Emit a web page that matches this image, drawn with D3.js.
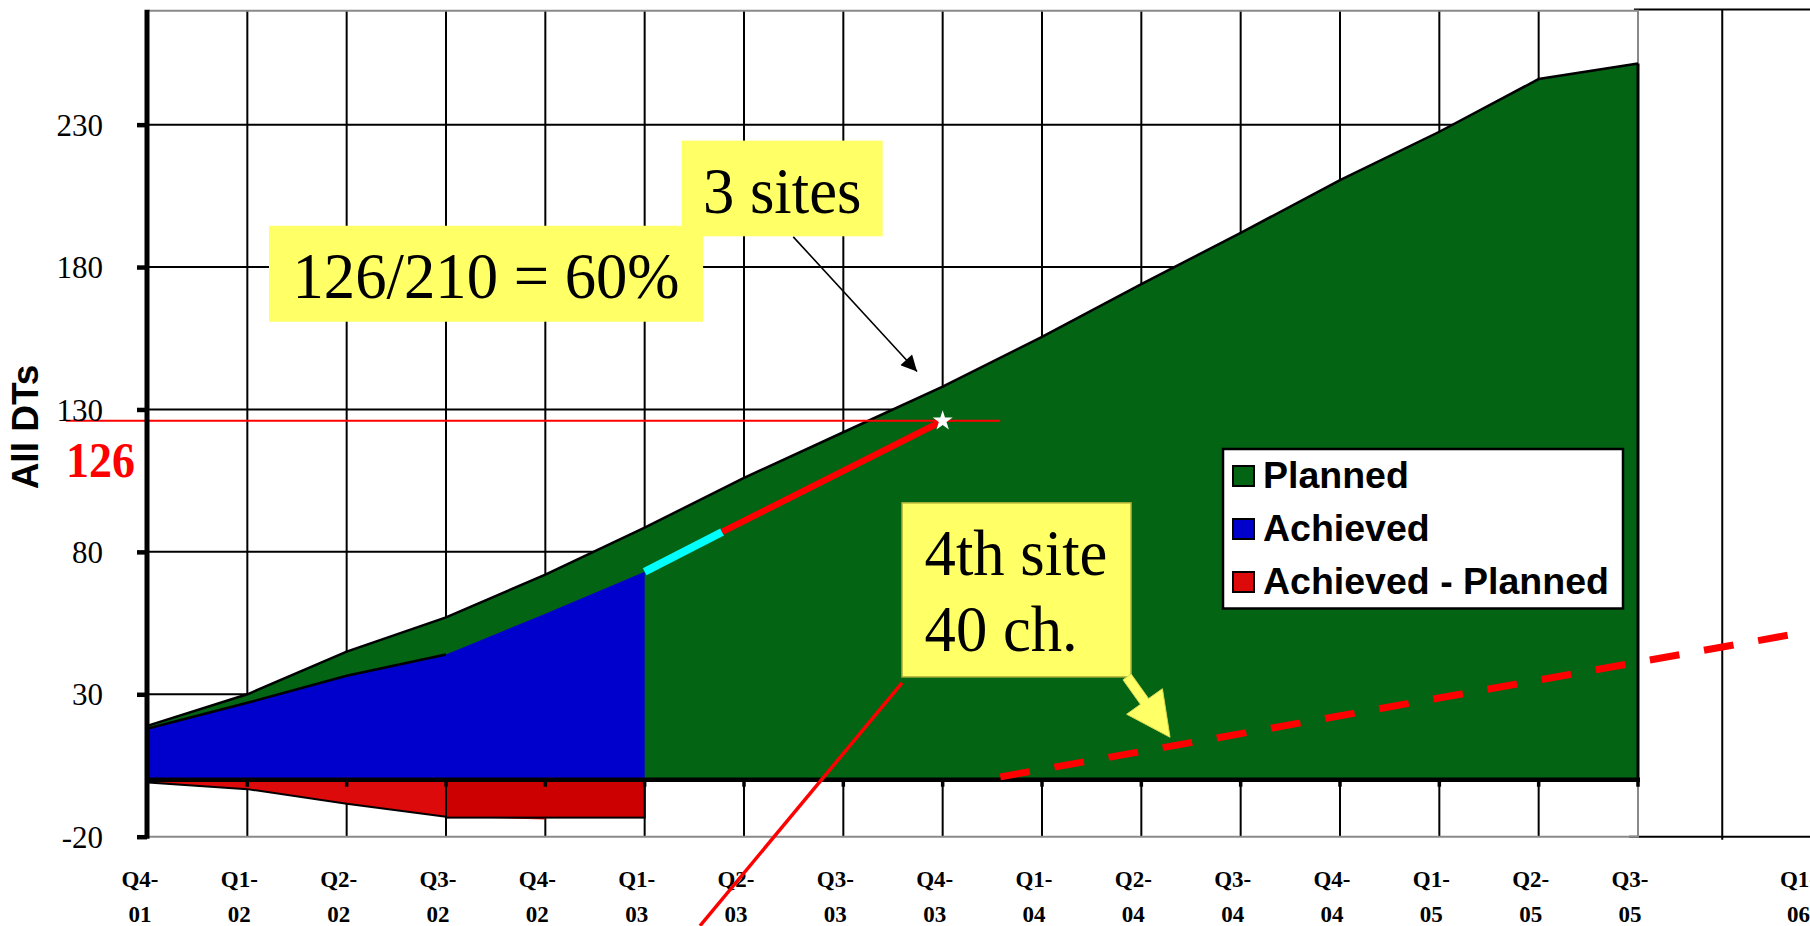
<!DOCTYPE html>
<html>
<head>
<meta charset="utf-8">
<script src="https://cdn.jsdelivr.net/npm/d3@7"></script>
<style>
  html, body { margin: 0; padding: 0; background: #ffffff; }
  svg { display: block; }
</style>
</head>
<body>
<svg id="chart" width="1810" height="926"></svg>
<script>
// ---- data ----
const quarters = ["Q4-01","Q1-02","Q2-02","Q3-02","Q4-02","Q1-03","Q2-03","Q3-03",
                  "Q4-03","Q1-04","Q2-04","Q3-04","Q4-04","Q1-05","Q2-05","Q3-05"];
const planned = [19, 30, 45, 57, 72, 88.5, 106, 122, 138, 155.5, 174, 192, 210.5, 227.5, 246, 251.5];
const achieved = [18, 27, 36.5, 44, 58.3, 73];
const achievedMinusPlanned = [-1, -3.3, -8.4, -13, -14];
const yTicks = [-20, 30, 80, 130, 180, 230];
const extraQuarters = ["Q3-05", "Q1-06"];

// shortfall block between Q3-02 and Q1-03 (quarter indices)
const shortfall = { from: 3, to: 5, value: -13.3 };
// projection from the last achieved point to the 126 target
const projectionCyan = [{ q: 5, v: 73 }, { q: 5.78, v: 87 }];
const projectionRed  = [{ q: 5.78, v: 87 }, { q: 8, v: 126 }];
const target = { q: 8, v: 126, label: "126" };
// 4th site trend (dashed)
const fourthSiteTrend = [{ q: 8.58, v: 1 }, { q: 16.71, v: 52 }];

// annotation boxes, in quarter-index / value space
const notes = [
  { text: ["3 sites"], q0: 5.373, q1: 7.396, v0: 224.4, v1: 190.8, anchor: "middle", border: null },
  { text: ["126/210 = 60%"], q0: 1.218, q1: 5.588, v0: 194.5, v1: 160.8, anchor: "middle", border: null },
  { text: ["4th site", "40 ch."], q0: 7.591, q1: 9.896, v0: 97.2, v1: 36.1, anchor: "start", border: "#b4b43c" }
];
const sitesArrow = [{ q: 6.496, v: 190.6 }, { q: 7.742, v: 143.3 }];
const fourthArrow = [{ q: 9.856, v: 36.1 }, { q: 10.289, v: 14.9 }];
const fourthPointer = [{ q: 7.591, v: 34 }, { q: 5.557, v: -51.3 }];

const legendItems = [
  { label: "Planned", color: "#036414" },
  { label: "Achieved", color: "#0000cc" },
  { label: "Achieved - Planned", color: "#dc0a0a" }
];

// ---- layout ----
const W = 1810, H = 926;
const pL = 148, pR = 1638, pT = 10.7, pB = 836.7;
const SERIF = "'Liberation Serif','Times New Roman',serif";
const SANS = "'Liberation Sans',Arial,sans-serif";

const svg = d3.select("#chart");
const x = d3.scalePoint().domain(quarters).range([pL, pR]);
const xq = d3.scaleLinear().domain([0, quarters.length - 1]).range([pL, pR]);
const y = d3.scaleLinear().domain([-20, 270]).range([pB, pT]);
const x2 = d3.scaleBand().domain(extraQuarters)
  .range([pR - 84.25, pR + 168.5 + 84.25]).padding(0);

svg.append("rect").attr("width", W).attr("height", H).attr("fill", "#fff");

// ---- grid ----
const grid = svg.append("g");
grid.selectAll("line.h").data(yTicks.filter(t => t > -20)).join("line")
  .attr("x1", pL).attr("x2", pR)
  .attr("y1", d => y(d)).attr("y2", d => y(d))
  .attr("stroke", "#000").attr("stroke-width", 2);
grid.selectAll("line.v").data(quarters.slice(1, -1)).join("line")
  .attr("x1", d => x(d)).attr("x2", d => x(d))
  .attr("y1", pT).attr("y2", pB)
  .attr("stroke", "#000").attr("stroke-width", 2);

// right-hand extension panel
const ext = svg.append("g");
ext.append("line").attr("x1", pR - 4).attr("x2", W).attr("y1", pT - 1.2).attr("y2", pT - 1.2)
  .attr("stroke", "#000").attr("stroke-width", 2);
ext.append("line").attr("x1", pR - 9).attr("x2", W).attr("y1", pB).attr("y2", pB)
  .attr("stroke", "#000").attr("stroke-width", 2);
ext.append("line").attr("x1", x2("Q1-06")).attr("x2", x2("Q1-06"))
  .attr("y1", pT - 1).attr("y2", pB + 3)
  .attr("stroke", "#000").attr("stroke-width", 2);

// plot border
svg.append("path").attr("d", `M${pL},${pT}H${pR}V${pB}H${pL}`)
  .attr("stroke", "#8a8a8a").attr("stroke-width", 2).attr("fill", "none");

// ---- areas ----
const areaGen = d3.area().x((d, i) => x(quarters[i])).y0(y(0)).y1(d => y(d));
const lineGen = d3.line().x((d, i) => x(quarters[i])).y(d => y(d));

svg.append("path").datum(planned).attr("d", areaGen).attr("fill", "#036414");
svg.append("path").datum(planned).attr("d", lineGen)
  .attr("fill", "none").attr("stroke", "#000").attr("stroke-width", 2.5);
svg.append("line")
  .attr("x1", x(quarters[quarters.length - 1])).attr("x2", x(quarters[quarters.length - 1]))
  .attr("y1", y(planned[planned.length - 1])).attr("y2", y(0))
  .attr("stroke", "#000").attr("stroke-width", 3);

svg.append("path").datum(achieved).attr("d", areaGen).attr("fill", "#0000cc");
svg.append("path").datum(achieved.slice(0, 4)).attr("d", lineGen)
  .attr("fill", "none").attr("stroke", "#000").attr("stroke-width", 2.5);

svg.append("path").datum(achievedMinusPlanned).attr("d", areaGen).attr("fill", "#dc0a0a");
svg.append("path").datum(achievedMinusPlanned.slice(0, 4)).attr("d", lineGen)
  .attr("fill", "none").attr("stroke", "#000").attr("stroke-width", 2);

svg.append("rect")
  .attr("x", xq(shortfall.from)).attr("y", y(0))
  .attr("width", xq(shortfall.to) - xq(shortfall.from))
  .attr("height", y(shortfall.value) - y(0))
  .attr("fill", "#cc0000").attr("stroke", "#000").attr("stroke-width", 2);

// ---- 126 reference line ----
svg.append("line")
  .attr("x1", 66).attr("x2", xq(fourthSiteTrend[0].q))
  .attr("y1", y(target.v)).attr("y2", y(target.v))
  .attr("stroke", "#ff0000").attr("stroke-width", 2);

// ---- zero axis ----
svg.append("line").attr("x1", pL).attr("x2", pR + 2)
  .attr("y1", y(0)).attr("y2", y(0)).attr("stroke", "#000").attr("stroke-width", 4.5);
svg.selectAll("line.zt").data(quarters.slice(1)).join("line")
  .attr("x1", d => x(d)).attr("x2", d => x(d))
  .attr("y1", y(0)).attr("y2", y(0) + 7)
  .attr("stroke", "#000").attr("stroke-width", 3.5);

// ---- y axis ----
const yAxis = d3.axisLeft(y).tickValues(yTicks).tickFormat(d => String(d))
  .tickSizeInner(10).tickSizeOuter(0).tickPadding(34);
const ya = svg.append("g").attr("transform", `translate(${pL - 1},0)`).call(yAxis);
ya.select(".domain").attr("stroke", "#000").attr("stroke-width", 5)
  .attr("d", `M0,${pT - 1}V${pB + 2}`);
ya.selectAll(".tick line").attr("stroke", "#000").attr("stroke-width", 4.5);
ya.selectAll(".tick text").attr("font-family", SERIF).attr("font-size", 31)
  .attr("fill", "#000").attr("dy", "0.34em");

// ---- x labels ----
const xl = svg.append("g").attr("font-family", SERIF).attr("font-weight", "bold")
  .attr("font-size", 23).attr("text-anchor", "middle").attr("fill", "#000");
function qLabel(g, q, cx) {
  const [a, b] = q.split("-");
  const t = g.append("text").attr("x", cx);
  t.append("tspan").attr("x", cx).attr("y", 886.7).text(a + "-");
  t.append("tspan").attr("x", cx).attr("y", 921.7).text(b);
}
quarters.forEach(q => qLabel(xl, q, x(q) - 8));
qLabel(xl, "Q1-06", x2("Q1-06") + x2.bandwidth() / 2 - 8);

// ---- projection ----
const pl = d3.line().x(d => xq(d.q)).y(d => y(d.v));
svg.append("path").datum(projectionCyan).attr("d", pl)
  .attr("stroke", "#00ffff").attr("stroke-width", 8).attr("fill", "none");
svg.append("path").datum(projectionRed).attr("d", pl)
  .attr("stroke", "#ff0000").attr("stroke-width", 6.5).attr("fill", "none");
svg.append("path")
  .attr("d", d3.symbol().type(d3.symbolStar).size(125)())
  .attr("transform", `translate(${xq(target.q)},${y(target.v)})`)
  .attr("fill", "#fff");

// ---- 4th site trend ----
svg.append("path").datum(fourthSiteTrend).attr("d", pl)
  .attr("stroke", "#ff0000").attr("stroke-width", 7).attr("fill", "none")
  .attr("stroke-dasharray", "30 25");

// ---- annotations ----
notes.forEach(n => {
  const bx = xq(n.q0), by = y(n.v0), bw = xq(n.q1) - xq(n.q0), bh = y(n.v1) - y(n.v0);
  svg.append("rect").attr("x", bx).attr("y", by).attr("width", bw).attr("height", bh)
    .attr("fill", "#ffff66")
    .attr("stroke", n.border || "none").attr("stroke-width", n.border ? 1.5 : 0);
  n.text.forEach((line, i) => {
    const tx = n.anchor === "middle" ? bx + bw / 2 : bx + 22.5;
    const ty = by + 72 + i * 75.7;
    svg.append("text")
      .attr("transform", `translate(${tx},${ty}) scale(0.95,1)`)
      .attr("text-anchor", n.anchor)
      .attr("font-family", SERIF).attr("font-size", 66).attr("fill", "#000")
      .text(line);
  });
});

// black arrow from "3 sites"
svg.append("defs").append("marker")
  .attr("id", "blackHead").attr("viewBox", "0 0 10 10").attr("refX", 10).attr("refY", 5)
  .attr("markerUnits", "userSpaceOnUse").attr("markerWidth", 20).attr("markerHeight", 16)
  .attr("orient", "auto")
  .append("path").attr("d", "M0,0L10,5L0,10Z").attr("fill", "#000");
svg.append("path").datum(sitesArrow).attr("d", pl)
  .attr("stroke", "#000").attr("stroke-width", 1.6).attr("fill", "none")
  .attr("marker-end", "url(#blackHead)");

// yellow block arrow from "4th site"
(function () {
  const [p0, p1] = fourthArrow.map(d => [xq(d.q), y(d.v)]);
  const dx = p1[0] - p0[0], dy = p1[1] - p0[1];
  const len = Math.hypot(dx, dy), ux = dx / len, uy = dy / len, nx = -uy, ny = ux;
  const headLen = 44, headHalf = 22, shaftHalf = 5;
  const bxp = p1[0] - ux * headLen, byp = p1[1] - uy * headLen;
  const pts = [
    [p0[0] + nx * shaftHalf, p0[1] + ny * shaftHalf],
    [bxp + nx * shaftHalf, byp + ny * shaftHalf],
    [bxp + nx * headHalf, byp + ny * headHalf],
    p1,
    [bxp - nx * headHalf, byp - ny * headHalf],
    [bxp - nx * shaftHalf, byp - ny * shaftHalf],
    [p0[0] - nx * shaftHalf, p0[1] - ny * shaftHalf]
  ];
  svg.append("path").attr("d", "M" + pts.map(p => p.join(",")).join("L") + "Z")
    .attr("fill", "#ffff66").attr("stroke", "#d8d850").attr("stroke-width", 1);
})();

// red pointer from "4th site"
svg.append("path").datum(fourthPointer).attr("d", pl)
  .attr("stroke", "#ff0000").attr("stroke-width", 3.5).attr("fill", "none");

// ---- legend ----
const lg = svg.append("g").attr("transform", "translate(1223,449)");
lg.append("rect").attr("width", 400).attr("height", 159.5)
  .attr("fill", "#fff").attr("stroke", "#000").attr("stroke-width", 2.5);
const li = lg.selectAll("g.item").data(legendItems).join("g")
  .attr("transform", (d, i) => `translate(0,${17 + i * 53})`);
li.append("rect").attr("x", 10).attr("width", 21).attr("height", 20)
  .attr("fill", d => d.color).attr("stroke", "#000").attr("stroke-width", 2);
li.append("text").attr("x", 40).attr("y", 21.5)
  .attr("font-family", SANS).attr("font-weight", "bold").attr("font-size", 37.5)
  .attr("fill", "#000").text(d => d.label);

// ---- titles ----
svg.append("text")
  .attr("transform", "translate(38,427) rotate(-90)")
  .attr("text-anchor", "middle")
  .attr("font-family", SANS).attr("font-weight", "bold").attr("font-size", 37)
  .attr("fill", "#000").text("All DTs");

svg.append("text")
  .attr("transform", `translate(66,477) scale(0.92,1)`)
  .attr("font-family", SERIF).attr("font-weight", "bold").attr("font-size", 50)
  .attr("fill", "#ff0000").text(target.label);
</script>
</body>
</html>
